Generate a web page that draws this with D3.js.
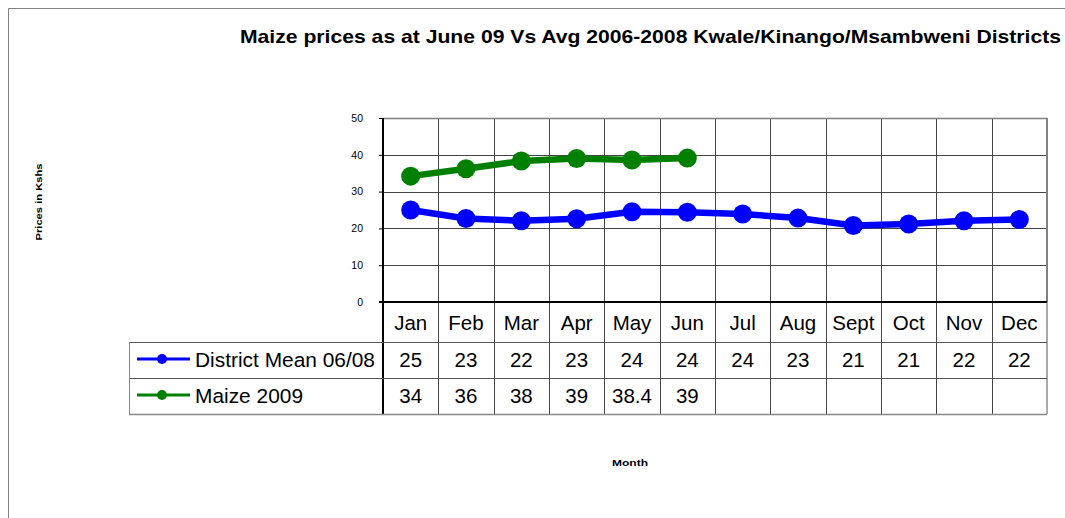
<!DOCTYPE html>
<html><head><meta charset="utf-8">
<script src="https://cdn.jsdelivr.net/npm/d3@7"></script>
<style>body{margin:0;background:#fff}svg{display:block;font-family:Arial,"Liberation Sans",sans-serif}</style>
</head><body><svg id="c" width="1065" height="518"></svg>
<script>
const months = ["Jan","Feb","Mar","Apr","May","Jun","Jul","Aug","Sept","Oct","Nov","Dec"];
const districtMean = [25.0,22.7,22.1,22.6,24.5,24.4,23.9,22.8,20.8,21.2,22.1,22.4];
const maize2009 = [34.2,36.2,38.3,39.0,38.6,39.1];
const districtMeanLabels = ["25","23","22","23","24","24","24","23","21","21","22","22"];
const maize2009Labels = ["34","36","38","39","38.4","39"];
const yTicks = [0,10,20,30,40,50];
const seriesNames = ["District Mean 06/08","Maize 2009"];
const colors = ["#0000ff","#008000"];

const svg = d3.select("#c");
const L=383, R=1047, T=118, B=302;
const x = d3.scaleBand().domain(months).range([L,R]);
const y = d3.scaleLinear().domain([0,50]).range([B,T]);

svg.append("path").attr("d","M8.5,600 V8.5 H1100").attr("fill","none").attr("stroke","#808080").attr("stroke-width",1);

svg.append("text").attr("x",240).attr("y",43)
  .attr("font-size",18.5).attr("font-weight","bold").attr("textLength",821).attr("lengthAdjust","spacingAndGlyphs")
  .text("Maize prices as at June 09 Vs Avg 2006-2008 Kwale/Kinango/Msambweni Districts");

const g = svg.append("g");
g.selectAll(".hg").data(yTicks.filter(d=>d>0&&d<50)).join("line")
  .attr("x1",L).attr("x2",R).attr("y1",d=>Math.round(y(d))+0.5).attr("y2",d=>Math.round(y(d))+0.5)
  .attr("stroke","#444").attr("stroke-width",1);
const rowB = [342, 378, 414];
g.selectAll(".vg").data(months.slice(1)).join("line")
  .attr("x1",d=>Math.round(x(d))+0.5).attr("x2",d=>Math.round(x(d))+0.5)
  .attr("y1",T).attr("y2",rowB[2]).attr("stroke","#444").attr("stroke-width",1);
svg.append("line").attr("x1",L).attr("x2",R).attr("y1",T+0.5).attr("y2",T+0.5).attr("stroke","#808080").attr("stroke-width",1.5);
svg.append("line").attr("x1",R).attr("x2",R).attr("y1",T).attr("y2",B).attr("stroke","#808080").attr("stroke-width",2);

const ya = d3.axisLeft(y).tickValues(yTicks).tickSize(4).tickPadding(16);
const yg = svg.append("g").attr("transform",`translate(${L},0)`).call(ya);
yg.select(".domain").remove();
yg.selectAll("text").attr("font-size",10.5).attr("font-family","Arial").attr("fill","#000");
yg.selectAll("line").attr("stroke","#000");
svg.append("line").attr("x1",L).attr("x2",L).attr("y1",T).attr("y2",rowB[2]).attr("stroke","#000").attr("stroke-width",2);
svg.append("line").attr("x1",L-4).attr("x2",R).attr("y1",B).attr("y2",B).attr("stroke","#000").attr("stroke-width",2);

const line = d3.line().x((d,i)=>x(months[i])+x.bandwidth()/2).y(d=>y(d));
[districtMean, maize2009].forEach((s,k)=>{
  svg.append("path").attr("d",line(s)).attr("fill","none").attr("stroke",colors[k]).attr("stroke-width",6.5).attr("stroke-linejoin","round");
  svg.selectAll(null).data(s).join("circle").attr("cx",(d,i)=>x(months[i])+x.bandwidth()/2).attr("cy",d=>y(d)).attr("r",9.5).attr("fill",colors[k]);
});

const tbl = svg.append("g");
const LL = 129;
tbl.selectAll(".rl").data([rowB[0], rowB[1]]).join("line")
  .attr("x1",LL).attr("x2",R).attr("y1",d=>d+0.5).attr("y2",d=>d+0.5).attr("stroke","#555");
tbl.append("line").attr("x1",LL).attr("x2",R).attr("y1",rowB[2]+0.5).attr("y2",rowB[2]+0.5).attr("stroke","#888").attr("stroke-width",1.5);
tbl.append("line").attr("x1",LL+0.5).attr("x2",LL+0.5).attr("y1",rowB[0]).attr("y2",rowB[2]).attr("stroke","#888");
tbl.append("line").attr("x1",R).attr("x2",R).attr("y1",B).attr("y2",rowB[2]).attr("stroke","#555");
const cx = m=>x(m)+x.bandwidth()/2;
const fs = 20.5;
tbl.selectAll(".mh").data(months).join("text").attr("x",cx).attr("y",(B+rowB[0])/2+8)
  .attr("text-anchor","middle").attr("font-size",fs).text(d=>d);
[districtMeanLabels, maize2009Labels].forEach((arr,k)=>{
  const yc = (rowB[k]+rowB[k+1])/2+7;
  tbl.selectAll(null).data(arr).join("text").attr("x",(d,i)=>cx(months[i])).attr("y",yc)
    .attr("text-anchor","middle").attr("font-size",fs).text(d=>d);
  const ly = (rowB[k]+rowB[k+1])/2-1;
  tbl.append("line").attr("x1",137).attr("x2",190).attr("y1",ly).attr("y2",ly).attr("stroke",colors[k]).attr("stroke-width",3);
  tbl.append("circle").attr("cx",162).attr("cy",ly).attr("r",5).attr("fill",colors[k]);
  const t = tbl.append("text").attr("x",195).attr("y",yc).attr("font-size",fs).text(seriesNames[k]);
  t.attr("textLength", k===0 ? 180 : 108).attr("lengthAdjust","spacingAndGlyphs");
});

svg.append("text").attr("transform","translate(42,202) rotate(-90)").attr("text-anchor","middle")
  .attr("font-size",9.5).attr("font-weight","bold").attr("textLength",77).attr("lengthAdjust","spacingAndGlyphs").text("Prices in Kshs");
svg.append("text").attr("x",630).attr("y",466).attr("text-anchor","middle")
  .attr("font-size",9.5).attr("font-weight","bold").attr("textLength",36).attr("lengthAdjust","spacingAndGlyphs").text("Month");
</script></body></html>
